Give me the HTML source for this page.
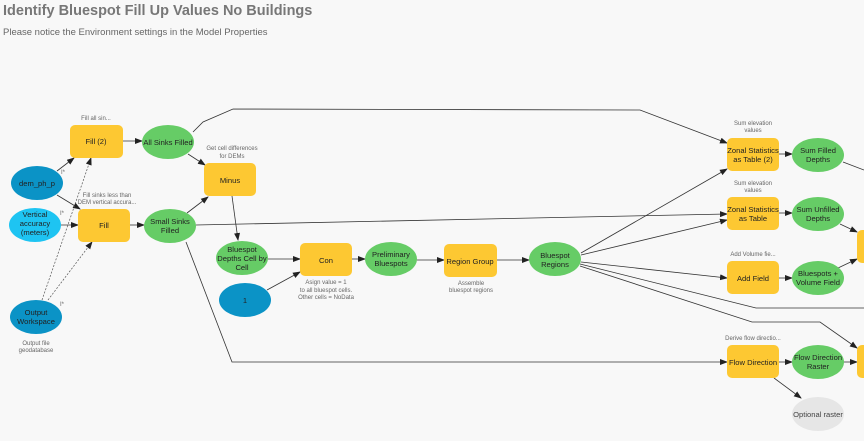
<!DOCTYPE html>
<html><head><meta charset="utf-8"><style>
html,body{margin:0;padding:0;background:#f8f8f8;}
svg{display:block;}
text{font-family:"Liberation Sans",sans-serif;}
.n{font-size:7.6px;fill:#222;text-anchor:middle;}
.l{font-size:6px;fill:#666;text-anchor:middle;}
.e{stroke:#333;stroke-width:0.8;fill:none;}
.d{stroke:#555;stroke-width:0.7;fill:none;stroke-dasharray:2,1.5;}
.y{fill:#fdc832;}
.g{fill:#66cc66;}
.b{fill:#0b93c6;}
.c{fill:#1ec4f2;}
</style></head><body>
<svg width="864" height="441" viewBox="0 0 864 441" xmlns="http://www.w3.org/2000/svg">
<defs><marker id="a" markerWidth="8" markerHeight="6" refX="7" refY="3" orient="auto" markerUnits="userSpaceOnUse"><path d="M0,0 L8,3 L0,6 z" fill="#222"/></marker></defs>
<text x="3" y="15" style="font-size:14.5px;font-weight:bold;fill:#777">Identify Bluespot Fill Up Values No Buildings</text>
<text x="3" y="35" style="font-size:9.5px;fill:#666">Please notice the Environment settings in the Model Properties</text>

<path class="e" d="M57,171 L74,158" marker-end="url(#a)"/>
<path class="e" d="M57,195 L80,209" marker-end="url(#a)"/>
<path class="e" d="M61,225 L78,225" marker-end="url(#a)"/>
<path class="d" d="M42,300 L91,158" marker-end="url(#a)"/>
<path class="d" d="M48,300 L92,242" marker-end="url(#a)"/>
<path class="e" d="M123,141 L142,141" marker-end="url(#a)"/>
<path class="e" d="M130,225 L144,225" marker-end="url(#a)"/>
<path class="e" d="M188,154 L205,165" marker-end="url(#a)"/>
<path class="e" d="M187,213 L208,197" marker-end="url(#a)"/>
<path class="e" d="M232,196 L238,240" marker-end="url(#a)"/>
<path class="e" d="M193,132 L203,122 L233,109 L640,110 L727,143" marker-end="url(#a)"/>
<path class="e" d="M196,225 L727,214" marker-end="url(#a)"/>
<path class="e" d="M186,242 L232,362 L727,362" marker-end="url(#a)"/>
<path class="e" d="M268,259 L300,259" marker-end="url(#a)"/>
<path class="e" d="M267,290 L300,272" marker-end="url(#a)"/>
<path class="e" d="M352,259 L365,259" marker-end="url(#a)"/>
<path class="e" d="M417,260 L444,260" marker-end="url(#a)"/>
<path class="e" d="M497,260 L529,260" marker-end="url(#a)"/>
<path class="e" d="M581,253 L727,169" marker-end="url(#a)"/>
<path class="e" d="M581,255 L727,220" marker-end="url(#a)"/>
<path class="e" d="M581,262 L727,278" marker-end="url(#a)"/>
<path class="e" d="M580,264 L756,308 L864,308"/>
<path class="e" d="M580,266 L752,322 L820,322 L857,348" marker-end="url(#a)"/>
<path class="e" d="M779,154 L792,154" marker-end="url(#a)"/>
<path class="e" d="M779,213 L792,213" marker-end="url(#a)"/>
<path class="e" d="M779,278 L792,278" marker-end="url(#a)"/>
<path class="e" d="M779,362 L792,362" marker-end="url(#a)"/>
<path class="e" d="M774,378 L801,398" marker-end="url(#a)"/>
<path class="e" d="M843,162 L864,170"/>
<path class="e" d="M840,224 L857,232" marker-end="url(#a)"/>
<path class="e" d="M838,268 L857,259" marker-end="url(#a)"/>
<path class="e" d="M844,362 L857,362" marker-end="url(#a)"/>

<rect class="y" x="70" y="125" width="53" height="33" rx="5"/><text class="n" x="96" y="144">Fill (2)</text>
<text class="l" x="96" y="120">Fill all sin...</text>
<rect class="y" x="78" y="209" width="52" height="33" rx="5"/><text class="n" x="104" y="228">Fill</text>
<text class="l" x="107" y="197">Fill sinks less than</text><text class="l" x="107" y="204">DEM vertical accura...</text>
<rect class="y" x="204" y="163" width="52" height="33" rx="5"/><text class="n" x="230" y="183">Minus</text>
<text class="l" x="232" y="150">Get cell differences</text><text class="l" x="232" y="158">for DEMs</text>
<rect class="y" x="300" y="243" width="52" height="33" rx="5"/><text class="n" x="326" y="263">Con</text>
<text class="l" x="326" y="284">Asign value = 1</text><text class="l" x="326" y="292">to all bluespot cells.</text><text class="l" x="326" y="299">Other cells = NoData</text>
<rect class="y" x="444" y="244" width="53" height="33" rx="5"/><text class="n" x="470" y="264">Region Group</text>
<text class="l" x="471" y="285">Assemble</text><text class="l" x="471" y="292">bluespot regions</text>
<rect class="y" x="727" y="138" width="52" height="33" rx="5"/><text class="n" x="753" y="153">Zonal Statistics</text><text class="n" x="753" y="162">as Table (2)</text>
<text class="l" x="753" y="125">Sum elevation</text><text class="l" x="753" y="132">values</text>
<rect class="y" x="727" y="197" width="52" height="33" rx="5"/><text class="n" x="753" y="212">Zonal Statistics</text><text class="n" x="753" y="221">as Table</text>
<text class="l" x="753" y="185">Sum elevation</text><text class="l" x="753" y="192">values</text>
<rect class="y" x="727" y="261" width="52" height="33" rx="5"/><text class="n" x="753" y="281">Add Field</text>
<text class="l" x="753" y="256">Add Volume fie...</text>
<rect class="y" x="727" y="345" width="52" height="33" rx="5"/><text class="n" x="753" y="365">Flow Direction</text>
<text class="l" x="753" y="340">Derive flow directio...</text>
<rect class="y" x="857" y="230" width="20" height="33" rx="5"/>
<rect class="y" x="857" y="345" width="20" height="33" rx="5"/>

<ellipse class="g" cx="168" cy="142" rx="26" ry="17"/><text class="n" x="168" y="145">All Sinks Filled</text>
<ellipse class="g" cx="170" cy="226" rx="26" ry="17"/><text class="n" x="170" y="224">Small Sinks</text><text class="n" x="170" y="233">Filled</text>
<ellipse class="g" cx="242" cy="258" rx="26" ry="17"/><text class="n" x="242" y="252">Bluespot</text><text class="n" x="242" y="261">Depths Cell by</text><text class="n" x="242" y="270">Cell</text>
<ellipse class="g" cx="391" cy="259" rx="26" ry="17"/><text class="n" x="391" y="257">Preliminary</text><text class="n" x="391" y="266">Bluespots</text>
<ellipse class="g" cx="555" cy="259" rx="26" ry="17"/><text class="n" x="555" y="258">Bluespot</text><text class="n" x="555" y="267">Regions</text>
<ellipse class="g" cx="818" cy="155" rx="26" ry="17"/><text class="n" x="818" y="153">Sum Filled</text><text class="n" x="818" y="162">Depths</text>
<ellipse class="g" cx="818" cy="214" rx="26" ry="17"/><text class="n" x="818" y="212">Sum Unfilled</text><text class="n" x="818" y="221">Depths</text>
<ellipse class="g" cx="818" cy="278" rx="26" ry="17"/><text class="n" x="818" y="276">Bluespots +</text><text class="n" x="818" y="285">Volume Field</text>
<ellipse class="g" cx="818" cy="362" rx="26" ry="17"/><text class="n" x="818" y="360">Flow Direction</text><text class="n" x="818" y="369">Raster</text>
<ellipse cx="818" cy="414" rx="26" ry="17" fill="#e6e6e6"/><text class="n" x="818" y="417" style="fill:#444">Optional raster</text>

<ellipse class="b" cx="37" cy="183" rx="26" ry="17"/><text class="n" x="37" y="186">dem_ph_p</text>
<ellipse class="c" cx="35" cy="225" rx="26" ry="17"/><text class="n" x="35" y="217">Vertical</text><text class="n" x="35" y="226">accuracy</text><text class="n" x="35" y="235">(meters)</text>
<ellipse class="b" cx="36" cy="317" rx="26" ry="17"/><text class="n" x="36" y="315">Output</text><text class="n" x="36" y="324">Workspace</text>
<ellipse class="b" cx="245" cy="300" rx="26" ry="17"/><text class="n" x="245" y="303">1</text>
<text class="l" x="36" y="345">Output file</text><text class="l" x="36" y="352">geodatabase</text>
<text class="l" x="63" y="174">I*</text><text class="l" x="62" y="215">I*</text><text class="l" x="62" y="306">I*</text>
</svg>
</body></html>
